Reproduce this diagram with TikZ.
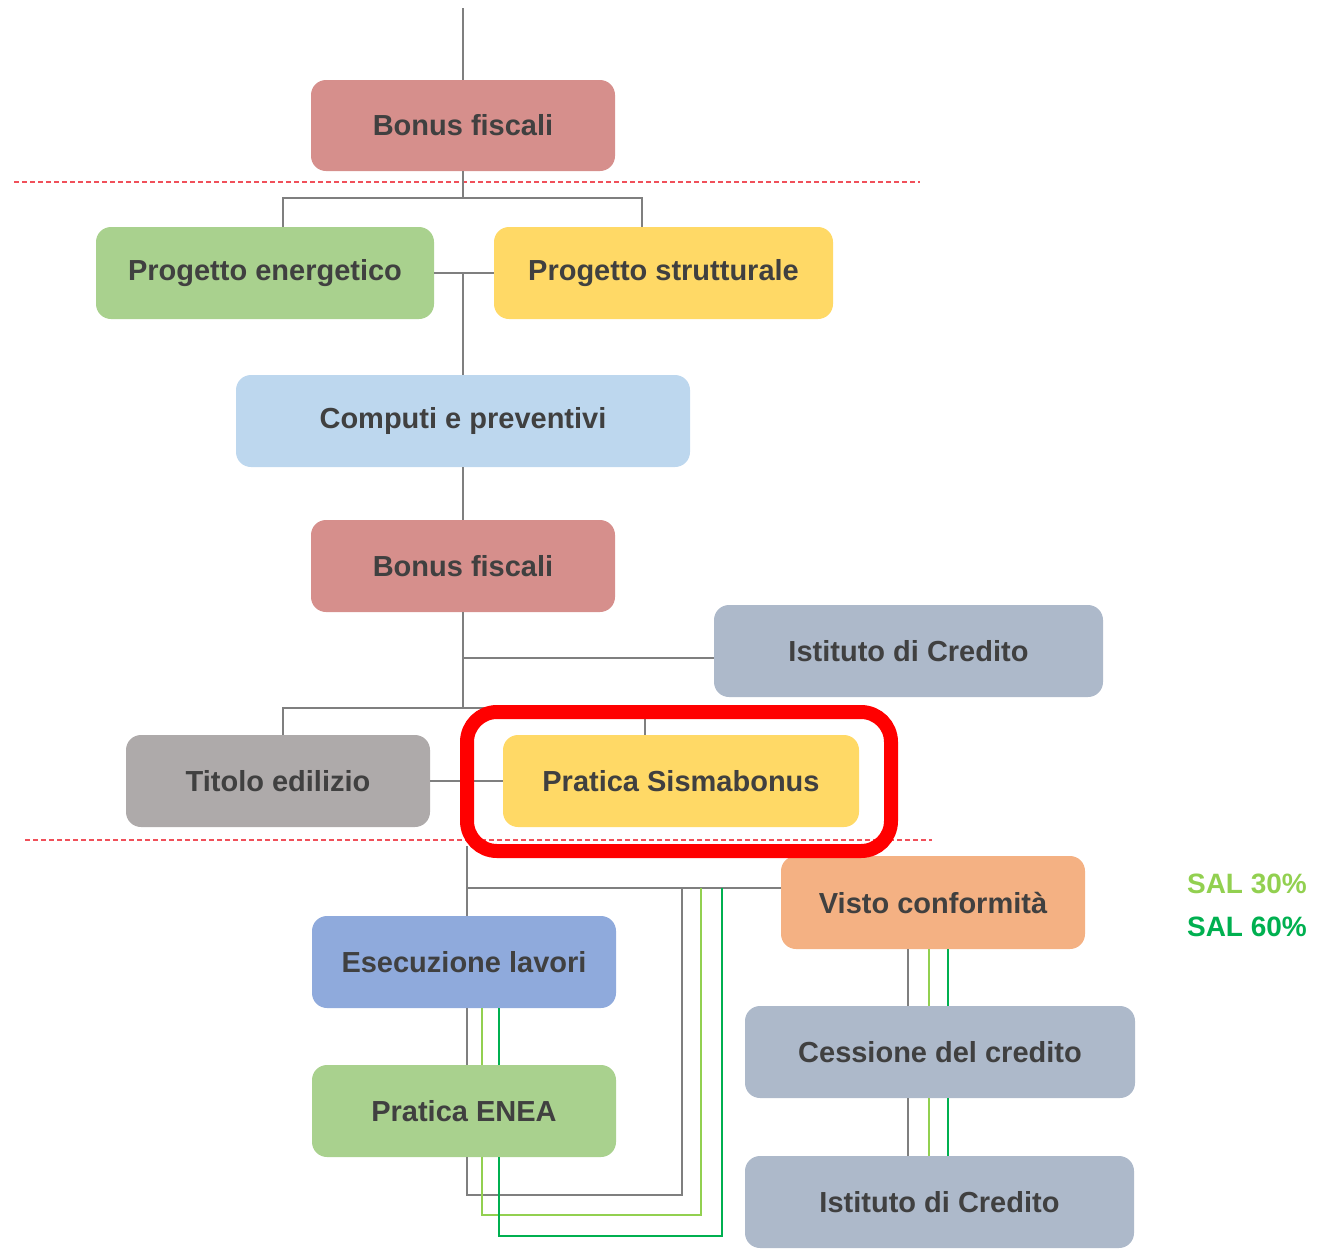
\documentclass[tikz,border=0pt]{standalone}
\usepackage{fontspec}
\setmainfont{Liberation Sans}
\usetikzlibrary{calc}
\definecolor{cRose}{HTML}{D68F8C}
\definecolor{cGreen}{HTML}{A9D18E}
\definecolor{cYellow}{HTML}{FFD966}
\definecolor{cBlue}{HTML}{BDD7EE}
\definecolor{cSlate}{HTML}{ADB9CA}
\definecolor{cGrayBox}{HTML}{AEAAAA}
\definecolor{cOrange}{HTML}{F4B183}
\definecolor{cBlueMid}{HTML}{8FAADC}
\definecolor{txt}{HTML}{404040}
\definecolor{lineGray}{HTML}{7F7F7F}
\definecolor{cLime}{HTML}{92D050}
\definecolor{cGreenDark}{HTML}{00B050}
\definecolor{sepRed}{HTML}{F0505A}
\definecolor{frameRed}{HTML}{FF0000}
\begin{document}
\begin{tikzpicture}[x=1pt,y=-1pt,
  box/.style={rounded corners=15pt, inner sep=0pt, text=txt,
    font=\fontsize{29}{34}\selectfont\bfseries},
  conn/.style={draw=lineGray, line width=2pt},
  connL/.style={draw=cLime, line width=2pt},
  connG/.style={draw=cGreenDark, line width=2pt},
  sep/.style={draw=sepRed, line width=1.5pt, dash pattern=on 5pt off 3pt},
  sal/.style={font=\fontsize{28}{32}\selectfont\bfseries, inner sep=0pt}]
\useasboundingbox (0,0) rectangle (1344,1253);

% separators
\coordinate (s1a) at (14,182); \coordinate (s1b) at (920,182);
\coordinate (s2a) at (25,840); \coordinate (s2b) at (932,840);
\draw[sep] (s1a) -- (s1b);
\draw[sep] (s2a) -- (s2b);

% nodes
\node[box, fill=cRose, minimum width=304pt, minimum height=91pt] (bf1) at (463,125.5) {Bonus fiscali};
\node[box, fill=cGreen, minimum width=338pt, minimum height=92pt] (pe) at (265,273) {Progetto energetico};
\node[box, fill=cYellow, minimum width=339pt, minimum height=92pt] (ps) at (663.5,273) {Progetto strutturale};
\node[box, fill=cBlue, minimum width=454pt, minimum height=92pt] (cp) at (463,421) {Computi e preventivi};
\node[box, fill=cRose, minimum width=304pt, minimum height=92pt] (bf2) at (463,566) {Bonus fiscali};
\node[box, fill=cSlate, minimum width=389pt, minimum height=92pt] (ic1) at (908.5,651) {Istituto di Credito};
\node[box, fill=cGrayBox, minimum width=304pt, minimum height=92pt] (te) at (278,781) {Titolo edilizio};
\node[box, fill=cYellow, minimum width=356pt, minimum height=92pt] (psm) at (681,781) {Pratica Sismabonus};
\node[box, fill=cOrange, minimum width=304pt, minimum height=93pt] (vc) at (933,902.5) {Visto conformità};
\node[box, fill=cBlueMid, minimum width=304pt, minimum height=92pt] (el) at (464,962) {Esecuzione lavori};
\node[box, fill=cGreen, minimum width=304pt, minimum height=92pt] (en) at (464,1111) {Pratica ENEA};
\node[box, fill=cSlate, minimum width=390pt, minimum height=92pt] (cc) at (940,1052) {Cessione del credito};
\node[box, fill=cSlate, minimum width=389pt, minimum height=92pt] (ic2) at (939.5,1202) {Istituto di Credito};

\node[sal, text=cLime] (sal30) at (1247,884) {SAL 30\%};
\node[sal, text=cGreenDark] (sal60) at (1247,927) {SAL 60\%};

% connectors
\coordinate (top) at (463,8);
\coordinate (j1) at (463,198);
\coordinate (j2) at (463,708);
\coordinate (ja) at (463,658);
\coordinate (j3) at (467,846);
\coordinate (j4) at (467,888);
\coordinate (jg) at (682,1195);
\coordinate (jl) at (701,1215);
\coordinate (jd) at (722,1236);

\draw[conn] (top) -- (bf1.north);
\draw[conn] (bf1.south) -- (j1);
\draw[conn] ($(pe.north)+(18,0)$) |- (j1) -| ($(ps.north)+(-21.5,0)$);
\draw[conn] (pe.east) -- (ps.west);
\draw[conn] (cp.north |- pe.east) -- (cp.north);
\draw[conn] (cp.south) -- (bf2.north);
\draw[conn] (bf2.south) -- (j2);
\draw[conn] (ja) -- ($(ic1.west)+(0,7)$);
\draw[conn] ($(te.north)+(5,0)$) |- (j2) -| ($(psm.north)+(-36,0)$);
\draw[conn] (te.east) -- (psm.west);
\draw[conn] (j3) -- ($(el.north)+(3,0)$);
\draw[conn] (j4) -- ($(vc.west)+(0,-14.5)$);

% loops around Esecuzione lavori / Pratica ENEA
\draw[conn] ($(el.south)+(3,0)$) -- ($(en.north)+(3,0)$);
\draw[connL] ($(el.south)+(18,0)$) -- ($(en.north)+(18,0)$);
\draw[connG] ($(el.south)+(35,0)$) -- ($(en.north)+(35,0)$);
\draw[conn] ($(en.south)+(3,0)$) |- (jg) -- (jg |- j4);
\draw[connL] ($(en.south)+(18,0)$) |- (jl) -- (jl |- j4);
\draw[connG] ($(en.south)+(35,0)$) |- (jd) -- (jd |- j4);

% Visto -> Cessione -> Istituto
\draw[conn] ($(vc.south)+(-25,0)$) -- ($(cc.north)+(-32,0)$);
\draw[connL] ($(vc.south)+(-4,0)$) -- ($(cc.north)+(-11,0)$);
\draw[connG] ($(vc.south)+(15,0)$) -- ($(cc.north)+(8,0)$);
\draw[conn] ($(cc.south)+(-32,0)$) -- ($(ic2.north)+(-31.5,0)$);
\draw[connL] ($(cc.south)+(-11,0)$) -- ($(ic2.north)+(-10.5,0)$);
\draw[connG] ($(cc.south)+(8,0)$) -- ($(ic2.north)+(8.5,0)$);

% highlight frame
\node[draw=frameRed, line width=14pt, rounded corners=30pt, minimum width=424pt, minimum height=139pt, inner sep=0pt] (frame) at (679,781.5) {};
\end{tikzpicture}
\end{document}
